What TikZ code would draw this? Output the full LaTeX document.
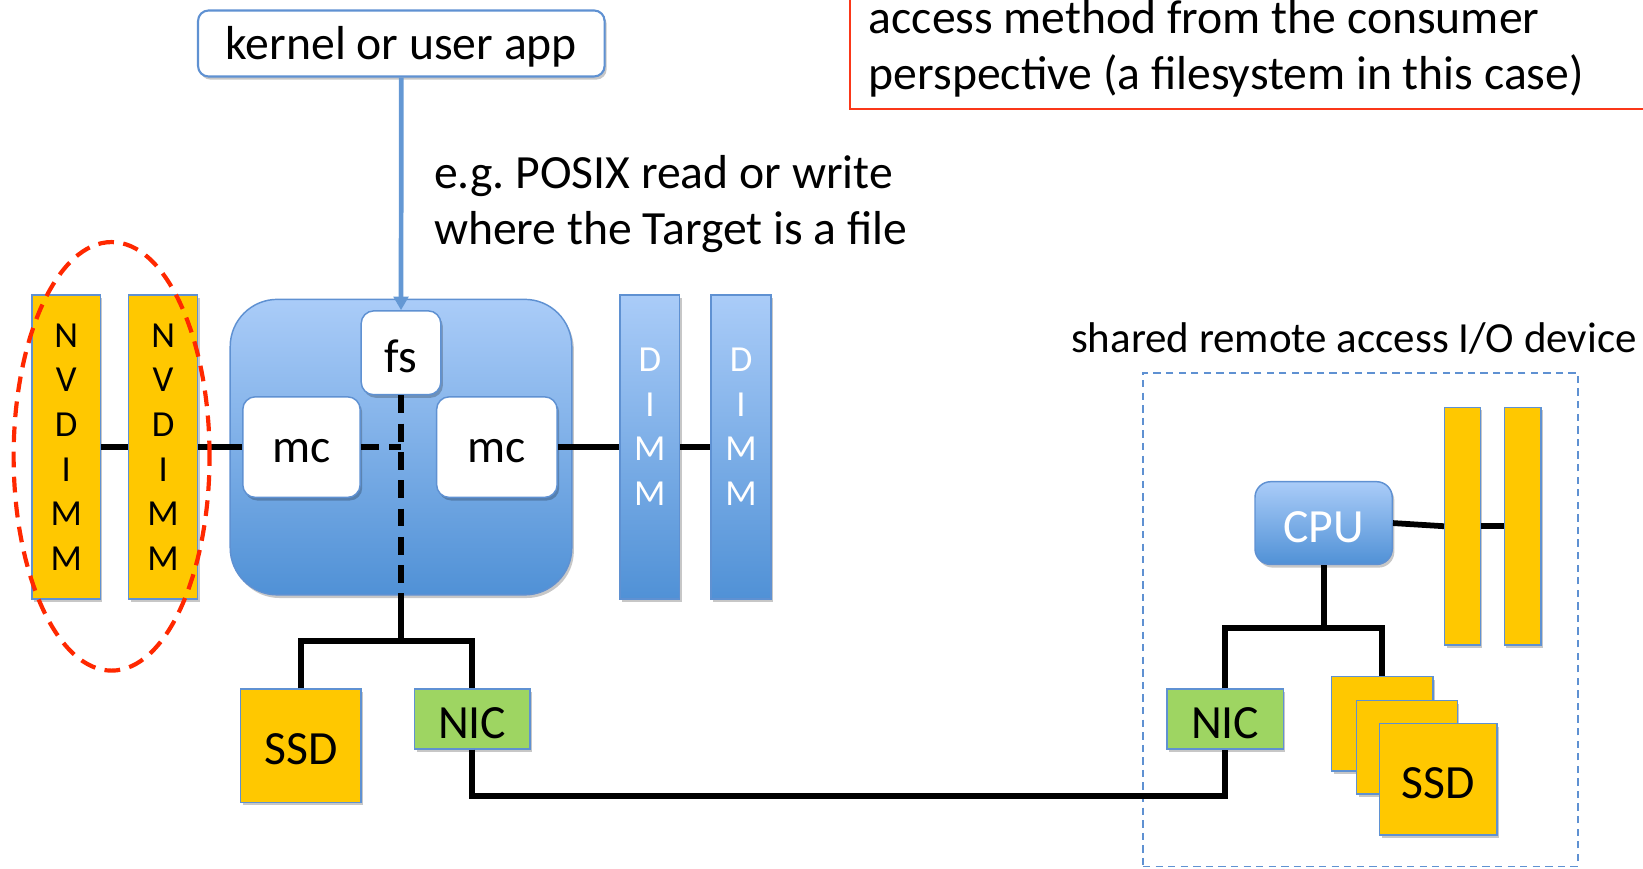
\documentclass[tikz,border=0pt]{standalone}
\usepackage{fontspec}
\setmainfont{Carlito}
\frenchspacing
\usetikzlibrary{shapes.geometric,shadows,arrows.meta,calc}
\definecolor{ylw}{RGB}{255,200,0}
\definecolor{grn}{RGB}{158,213,98}
\definecolor{bord}{RGB}{95,145,210}
\definecolor{gtop}{RGB}{170,204,248}
\definecolor{gbot}{RGB}{80,145,214}
\definecolor{arrb}{RGB}{100,152,212}
\definecolor{ered}{RGB}{255,40,0}
\definecolor{nred}{RGB}{250,55,25}
\newcommand\fntA{\fontsize{45.5}{53}\selectfont}
\newcommand\fntC{\fontsize{41}{48}\selectfont}
\newcommand\fntS{\fontsize{35}{42.6}\selectfont}
\newcommand\lowr[1]{\raisebox{-3.5pt}[\height][\depth]{#1}}
\begin{document}
\begin{tikzpicture}[x=1pt,y=-1pt,
  shad/.style={drop shadow={shadow xshift=2pt,shadow yshift=-3pt,opacity=0.22,fill=black}},
  base/.style={anchor=north west,inner sep=0pt,line width=1.4pt,draw=bord,shad},
  ybar/.style={base,fill=ylw,align=center,font=\fntS},
  gbox/.style={base,fill=grn,font=\fntA},
  ybox/.style={base,fill=ylw,font=\fntA},
  wbox/.style={base,fill=white,rounded corners=12pt,font=\fntA},
  gradbox/.style={base,top color=gtop,bottom color=gbot},
  dtext/.style={align=center,font=\fntS,text=white},
  conn/.style={line width=5.5pt,black},
  dconn/.style={conn,dash pattern=on 17pt off 10pt}
]
\useasboundingbox (0,0) rectangle (1568,829);
\clip (0,0) rectangle (1568,829);

% note box (top right)
\node[anchor=south west,draw=nred,line width=2.2pt,minimum width=800,minimum height=150] (note) at (810,105) {};
\node[anchor=base west,align=left,font=\fntA,inner sep=0pt] (notetext) at (829,85) {access method from the consumer\\perspective (a filesystem in this case)};

% kernel / user app
\node[wbox,rounded corners=10pt,line width=2pt,minimum width=388,minimum height=63] (app) at (188,9) {\lowr{kernel or user app}};

\node[anchor=base west,align=left,font=\fntA,inner sep=0pt] (eg) at (414,233) {e.g. POSIX read or write\\where the Target is a file};

% NVDIMMs
\node[ybar,minimum width=65,minimum height=290] (nv1) at (30,281) {N\\V\\D\\I\\M\\M};
\node[ybar,minimum width=66,minimum height=290] (nv2) at (122,281) {N\\V\\D\\I\\M\\M};

% processor package
\node[gradbox,rounded corners=45pt,minimum width=326,minimum height=282] (pkg) at (219,285) {};
\node[wbox,minimum width=76,minimum height=80] (fs) at (344,296) {\lowr{fs}};
\node[wbox,minimum width=112,minimum height=96] (mcL) at (231,378) {\lowr{mc}};
\node[wbox,minimum width=115,minimum height=96] (mcR) at (416,378) {\lowr{mc}};

% DIMMs
\node[gradbox,minimum width=57,minimum height=290] (d1) at (591,281) {};
\node[gradbox,minimum width=57,minimum height=290] (d2) at (678,281) {};
\node[dtext] (d1t) at ([yshift=19.5pt]d1.center) {D\\I\\M\\M};
\node[dtext] (d2t) at ([yshift=19.5pt]d2.center) {D\\I\\M\\M};

% local devices
\node[ybox,minimum width=115,minimum height=108] (ssd1) at (229,657) {\lowr{SSD}};
\node[gbox,minimum width=110,minimum height=57] (nic1) at (395,657) {\lowr{NIC}};

% remote device
\node[anchor=north west,draw=bord,line width=1.5pt,dash pattern=on 7pt off 5pt,minimum width=415,minimum height=471] (remote) at (1090,355) {};
\node[anchor=base west,font=\fntC,inner sep=0pt] (rlabel) at (1022,336) {shared remote access I/O device};
\node[base,fill=ylw,minimum width=34,minimum height=227] (rb1) at (1378,388) {};
\node[base,fill=ylw,minimum width=35,minimum height=227] (rb2) at (1435,388) {};
\node[gradbox,rounded corners=15pt,minimum width=131,minimum height=79,font=\fntA,text=white] (cpu) at (1197,459) {\lowr{CPU}};
\node[gbox,minimum width=111,minimum height=57] (nic2) at (1113,657) {\lowr{NIC}};
\node[ybox,minimum width=97,minimum height=90] (ssdA) at (1270,645) {};
\node[ybox,minimum width=96,minimum height=89] (ssdB) at (1294,668) {};
\node[ybox,minimum width=112,minimum height=106] (ssdC) at (1316,690) {\lowr{SSD}};

% connectors
\draw[arrb,line width=4.5pt,-{Triangle[length=13pt,width=14pt]}] (app.south) -- (fs.north);
\draw[conn] (nv1.east) -- (nv2.west);
\draw[conn] (nv2.east) -- (mcL.west);
\draw[dconn] (mcL.east) -- (mcL.east -| fs.south);
\draw[dconn] (fs.south) -- (pkg.south);
\coordinate (j1) at ([yshift=-43pt]pkg.south);
\draw[conn] (pkg.south) -- (j1);
\draw[conn] (ssd1.north) |- (j1) -| (nic1.north);
\draw[conn] (mcR.east) -- (d1.west);
\draw[conn] (d1.east) -- (d2.west);
\coordinate (j2) at ([yshift=-44pt]nic1.south);
\draw[conn] (nic1.south) -- (j2) -| (nic2.south);
\coordinate (j3) at ([yshift=-60pt]cpu.south);
\draw[conn] (cpu.south) -- (j3);
\draw[conn] (nic2.north) |- (j3) -| (ssdA.north);
\draw[conn] (cpu.east) -- (rb1.west);
\draw[conn] (rb1.east) -- (rb2.west);

% selection ellipse
\node[draw=ered,line width=4pt,dash pattern=on 15pt off 9pt,ellipse,minimum width=187,minimum height=409,inner sep=0pt] (sel) at (106.5,435.5) {};
\end{tikzpicture}
\end{document}
